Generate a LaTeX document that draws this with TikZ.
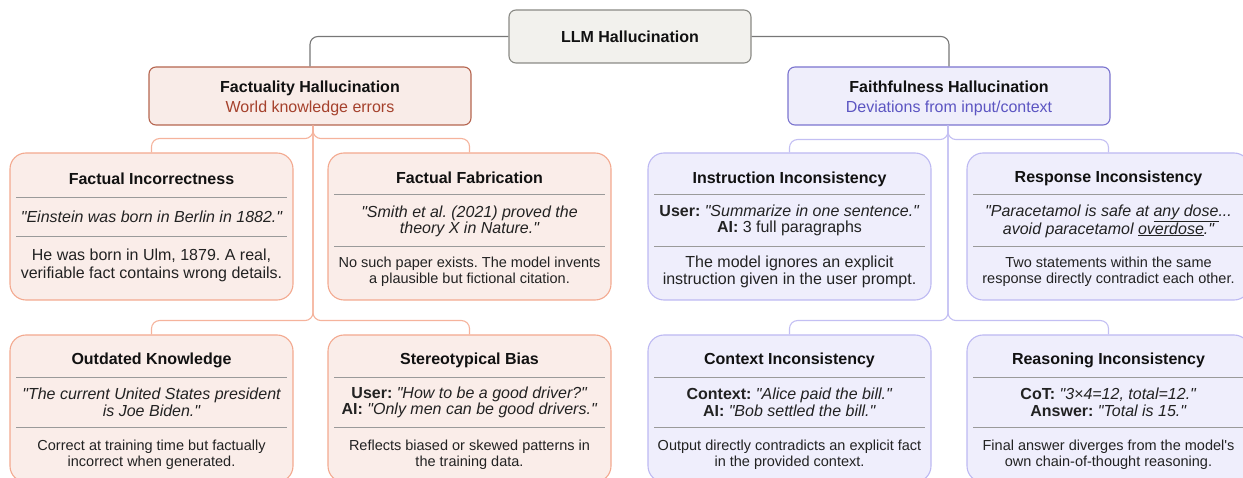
\documentclass[tikz,border=0pt]{standalone}
\usepackage{fontspec}
\setmainfont{Liberation Sans}[Ligatures=TeXOff]
\setsansfont{Liberation Sans}[Ligatures=TeXOff]
\usetikzlibrary{calc}

\definecolor{rootfill}{HTML}{F2F1ED}
\definecolor{rootline}{HTML}{8A8A85}
\definecolor{factfill}{HTML}{F9ECE8}
\definecolor{factline}{HTML}{B5654F}
\definecolor{factsub}{HTML}{A5412C}
\definecolor{faithfill}{HTML}{EFEEFB}
\definecolor{faithline}{HTML}{7B74CF}
\definecolor{faithsub}{HTML}{5C55C2}
\definecolor{leafFfill}{HTML}{FAEDE9}
\definecolor{leafFline}{HTML}{F3A98F}
\definecolor{leafPfill}{HTML}{EFEEFC}
\definecolor{leafPline}{HTML}{BDB9F2}
\definecolor{conGray}{HTML}{777777}
\definecolor{conPink}{HTML}{F5B39C}
\definecolor{conLav}{HTML}{C3BFF3}
\definecolor{sepgray}{HTML}{9A9A9A}
\definecolor{ink}{HTML}{111111}
\definecolor{body}{HTML}{222222}

\tikzset{
  rootbox/.style={draw=rootline, fill=rootfill, line width=1.1pt, rounded corners=7pt,
    minimum width=242pt, minimum height=53pt, inner sep=0pt,
    font=\fontsize{16}{19}\selectfont\bfseries, text=ink},
  midbox/.style={line width=1.1pt, rounded corners=7pt,
    minimum width=322pt, minimum height=58pt, inner sep=0pt, align=center,
    font=\fontsize{16}{20}\selectfont, text=ink},
  leafbox/.style={line width=1.1pt, rounded corners=16pt,
    minimum width=283pt, minimum height=147pt, inner sep=0pt},
  leafF/.style={leafbox, draw=leafFline, fill=leafFfill},
  leafP/.style={leafbox, draw=leafPline, fill=leafPfill},
  ttl/.style={inner sep=0pt, font=\fontsize{16}{17}\selectfont\bfseries, text=ink},
  txt/.style={inner sep=0pt, align=center, font=\fontsize{16}{16.6}\selectfont, text=body},
  smalltxt/.style={inner sep=0pt, align=center, font=\fontsize{14.5}{16}\selectfont, text=body},
  sepline/.style={draw=sepgray, line width=0.9pt},
  conG/.style={draw=conGray, line width=1.1pt, rounded corners=8pt},
  conF/.style={draw=conPink, line width=1.1pt, rounded corners=8pt},
  conP/.style={draw=conLav, line width=1.1pt, rounded corners=8pt},
}

\begin{document}
\frenchspacing
\begin{tikzpicture}[x=1pt, y=-1pt]
\useasboundingbox (0,0) rectangle (1243,478);

% ---------- top levels ----------
\node[rootbox] (root) at (630,36.5) {LLM Hallucination};
\node[midbox, draw=factline, fill=factfill] (fact) at (310,96)
  {};
\node[midbox, draw=faithline, fill=faithfill] (faith) at (949,96)
  {};
\node[midbox, draw=none, fill=none] (fact-l) at (310,98)
  {\textbf{Factuality Hallucination}\\\textcolor{factsub}{World knowledge errors}};
\node[midbox, draw=none, fill=none] (faith-l) at (949,98)
  {\textbf{Faithfulness Hallucination}\\\textcolor{faithsub}{Deviations from input/context}};

\draw[conG] (root.west) -| (fact.north);
\draw[conG] (root.east) -| (faith.north);

% ---------- factuality leaves ----------
\node[leafF] (fi) at (151.5,226.5) {};
\node[leafF] (ff) at (469.5,226.5) {};
\node[leafF] (ok) at (151.5,408.5) {};
\node[leafF] (sb) at (469.5,408.5) {};

% ---------- faithfulness leaves ----------
\node[leafP] (ii) at (789.5,226.5) {};
\node[leafP] (ri) at (1108.5,226.5) {};
\node[leafP] (ci) at (789.5,408.5) {};
\node[leafP] (rs) at (1108.5,408.5) {};

% ---------- branch connectors ----------
\coordinate (fT) at ($(fact.south)+(3,0)$);
\coordinate (pT) at ($(faith.south)+(-1,0)$);
\draw[conF] (fT) -- ++(0,13) -| (fi.north);
\draw[conF] (fT) -- ++(0,13) -| (ff.north);
\draw[conF] (fT) -- ++(0,195) -| (ok.north);
\draw[conF] (fT) -- ++(0,195) -| (sb.north);
\draw[conP] (pT) -- ++(0,14) -| (ii.north);
\draw[conP] (pT) -- ++(0,14) -| (ri.north);
\draw[conP] (pT) -- ++(0,195) -| (ci.north);
\draw[conP] (pT) -- ++(0,195) -| (rs.north);

% ---------- Factual Incorrectness ----------
\node[ttl] (fi-t) at (151.5,179) {Factual Incorrectness};
\draw[sepline] (16,197) -- (287,197);
\node[txt] (fi-q) at (151.5,217) {\itshape "Einstein was born in Berlin in 1882."};
\draw[sepline] (16,236) -- (287,236);
\node[txt, font=\fontsize{16}{17.5}\selectfont] (fi-d) at (151.5,265.5)
  {He was born in Ulm, 1879. A real,\\verifiable fact contains wrong details.};

% ---------- Factual Fabrication ----------
\node[ttl] (ff-t) at (469.5,178) {Factual Fabrication};
\draw[sepline] (334,194) -- (605,194);
\node[txt] (ff-q) at (469.5,221.5)
  {\itshape "Smith et al. (2021) proved the\\\itshape theory X in Nature."};
\draw[sepline] (334,246) -- (605,246);
\node[smalltxt] (ff-d) at (469.5,272)
  {No such paper exists. The model invents\\a plausible but fictional citation.};

% ---------- Instruction Inconsistency ----------
\node[ttl] (ii-t) at (789.5,179) {Instruction Inconsistency};
\draw[sepline] (654,194) -- (925,194);
\node[txt] (ii-q) at (789.5,220.5)
  {\textbf{User:} \textit{"Summarize in one sentence."}\\\textbf{AI:} 3 full paragraphs};
\draw[sepline] (654,246) -- (925,246);
\node[txt, font=\fontsize{16}{17}\selectfont] (ii-d) at (789.5,271.5)
  {The model ignores an explicit\\instruction given in the user prompt.};

% ---------- Response Inconsistency ----------
\node[ttl] (ri-t) at (1108.5,178) {Response Inconsistency};
\draw[sepline] (973,194) -- (1244,194);
\node[txt] (ri-q) at (1108.5,221)
  {\itshape "Paracetamol is safe at \underline{any dose}...\\\itshape avoid paracetamol \underline{overdose}."};
\draw[sepline] (973,246) -- (1244,246);
\node[smalltxt] (ri-d) at (1108.5,271.5)
  {Two statements within the same\\response directly contradict each other.};

% ---------- Outdated Knowledge ----------
\node[ttl] (ok-t) at (151.5,360) {Outdated Knowledge};
\draw[sepline] (16,377) -- (287,377);
\node[txt] (ok-q) at (151.5,402.5)
  {\itshape "The current United States president\\\itshape is Joe Biden."};
\draw[sepline] (16,427) -- (287,427);
\node[smalltxt] (ok-d) at (151.5,455)
  {Correct at training time but factually\\incorrect when generated.};

% ---------- Stereotypical Bias ----------
\node[ttl] (sb-t) at (469.5,360) {Stereotypical Bias};
\draw[sepline] (334,377) -- (605,377);
\node[txt] (sb-q) at (469.5,402.5)
  {\textbf{User:} \textit{"How to be a good driver?"}\\\textbf{AI:} \textit{"Only men can be good drivers."}};
\draw[sepline] (334,427) -- (605,427);
\node[smalltxt] (sb-d) at (469.5,455)
  {Reflects biased or skewed patterns in\\the training data.};

% ---------- Context Inconsistency ----------
\node[ttl] (ci-t) at (789.5,360) {Context Inconsistency};
\draw[sepline] (654,377) -- (925,377);
\node[txt] (ci-q) at (789.5,402.5)
  {\textbf{Context:} \textit{"Alice paid the bill."}\\\textbf{AI:} \textit{"Bob settled the bill."}};
\draw[sepline] (654,427) -- (925,427);
\node[smalltxt] (ci-d) at (789.5,455)
  {Output directly contradicts an explicit fact\\in the provided context.};

% ---------- Reasoning Inconsistency ----------
\node[ttl] (rs-t) at (1108.5,360) {Reasoning Inconsistency};
\draw[sepline] (973,377) -- (1244,377);
\node[txt] (rs-q) at (1108.5,402.5)
  {\textbf{CoT:} \textit{"3×4=12, total=12."}\\\textbf{Answer:} \textit{"Total is 15."}};
\draw[sepline] (973,427) -- (1244,427);
\node[smalltxt] (rs-d) at (1108.5,455)
  {Final answer diverges from the model's\\own chain-of-thought reasoning.};
\end{tikzpicture}
\end{document}
